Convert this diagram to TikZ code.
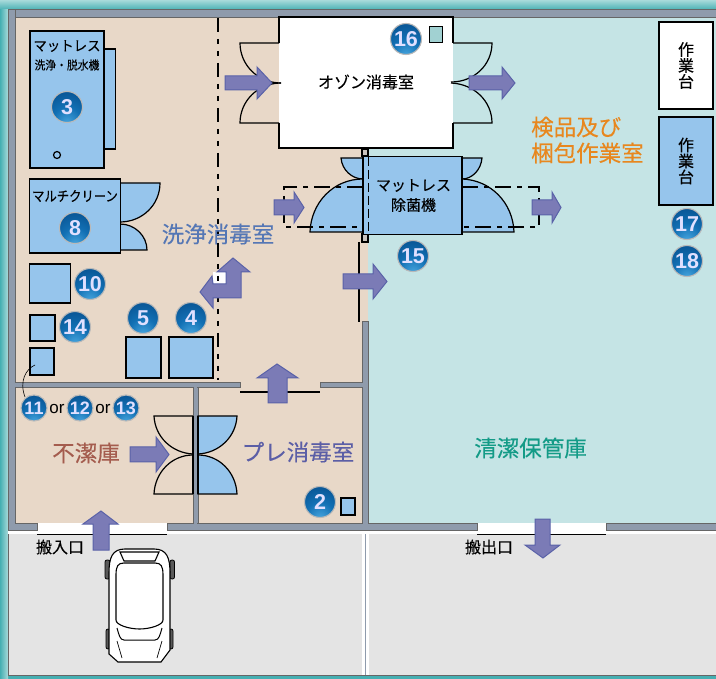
\documentclass[tikz,border=0pt]{standalone}
\usepackage{fontspec}
\setmainfont{Noto Sans CJK JP}[FakeBold=0.25]
\newfontfamily\badgefont{Liberation Sans}
\definecolor{ballhi}{HTML}{4AA8E0}
\definecolor{ballmid}{HTML}{1270B4}
\definecolor{balldk}{HTML}{07508F}
\definecolor{ballout}{HTML}{053F78}
\pgfdeclareradialshading{ballsh}{\pgfpoint{0bp}{-28bp}}{
  color(0bp)=(ballhi); color(22bp)=(ballmid); color(46bp)=(balldk); color(78bp)=(ballout); color(100bp)=(ballout)}
\definecolor{beige}{HTML}{E8D8C8}
\definecolor{cyanroom}{HTML}{C5E4E5}
\definecolor{floorg}{HTML}{E4E4E4}
\definecolor{wallc}{HTML}{8F9BAC}
\definecolor{walle}{HTML}{666666}
\definecolor{blu}{HTML}{96C5EC}
\definecolor{arrf}{HTML}{7B7BB6}
\definecolor{arre}{HTML}{5A62A8}
\definecolor{tealdk}{HTML}{45AFB2}
\definecolor{teallt}{HTML}{A8DADA}
\tikzset{
  wall/.style={fill=wallc,draw=walle,line width=1pt},
  bx/.style={fill=blu,draw=black,line width=1.5pt},
  flap/.style={fill=blu,draw=black,line width=1.2pt},
  oflap/.style={draw=black,line width=1.2pt},
  flow/.style={fill=arrf,draw=arre,line width=1pt,line join=miter},
  badge/.style={circle,shading=ballsh,draw=gray!55,line width=1.1pt,minimum size=31pt,inner sep=0pt,text=white!88!blue,font=\badgefont\bfseries\fontsize{21.5}{21.5}\selectfont},
  sbadge/.style={badge,minimum size=26pt,font=\badgefont\bfseries\fontsize{18}{18}\selectfont},
  jp/.style={inner sep=0pt,text=black},
  room/.style={inner sep=0pt,font=\fontsize{22.5}{26}\selectfont},
  car/.style={draw=black,line width=1.1pt,fill=white},
  cdash/.style={draw=black,line width=1.3pt,dash pattern=on 14pt off 7pt on 5pt off 7pt on 5pt off 7pt},
  ldash/.style={draw=black,line width=1.1pt,dash pattern=on 16pt off 6pt on 5pt off 6pt},
  postend/.style={draw=black,fill=wallc!35!beige,line width=1.1pt,minimum width=6pt,inner sep=0pt}
}
\begin{document}
\begin{tikzpicture}[x=1pt,y=-1pt]
\useasboundingbox (0,0) rectangle (716,679);
% frame
\fill[tealdk] (0,0) rectangle (716,679);
\shade[top color=teallt,bottom color=tealdk] (0,0) rectangle (716,10);
\shade[left color=tealdk,right color=teallt] (0,10) rectangle (8,679);
% floors
\fill[floorg] (8,533) rectangle (716,675);
\draw[walle,line width=1pt] (8,675) -- (716,675);
\draw[walle,line width=1pt] (8,533) -- (8,675);
\fill[white] (8,523) rectangle (716,534);
\fill[white] (362,534) rectangle (369,675);
\fill[wallc] (365,534) rectangle (366,675);
% rooms
\fill[beige] (15,18) rectangle (367.5,523);
\fill[cyanroom] (367.5,18) rectangle (716,523);
% walls
\draw[wall] (8,10) rectangle (716,18);
\draw[wall] (8,10) rectangle (15,530);
\draw[wall] (15,523) rectangle (37,530);
\draw[wall] (15,383) rectangle (240,388);
\draw[wall] (320,383) rectangle (362,388);
\draw[wall] (193,388) rectangle (198,523);
\draw[wall] (362,322) rectangle (368,523);
\draw[wall] (167,523) rectangle (477,530);
\draw[wall] (606,523) rectangle (716,530);
\fill[wallc] (9,11) rectangle (14.5,17.5);
\fill[wallc] (9,523.5) rectangle (20,529.5);
\fill[wallc] (9,383.5) rectangle (20,387.5);
\fill[wallc] (193.6,383.5) rectangle (197.4,389);
\fill[wallc] (193.6,522) rectangle (197.4,524);
\fill[wallc] (361,383.5) rectangle (363,387.5);
\fill[wallc] (362.5,522) rectangle (367.5,524);
\draw[black,line width=1.2pt] (37,534.5) -- (167,534.5);
\draw[black,line width=1.2pt] (477,534.5) -- (606,534.5);
\draw[black,line width=1.2pt] (240,392) -- (320,392);
% center dash line
\fill[white] (213,272) rectangle (226,284);
\draw[cdash] (218,18) -- (218,380);
% Ozone room
\node[draw=none,fill=white,minimum width=174pt,minimum height=131pt,inner sep=0pt] (ozone) at (366,82.5) {};
\draw[line width=1.4pt] (279,43) -- (279,17) -- (453,17) -- (453,43);
\draw[line width=1.4pt] (279,123) -- (279,148) -- (453,148) -- (453,123);
\draw[oflap] (279,43) -- (240,43) .. controls (240,65) and (258,83) .. (281,83);
\draw[oflap] (279,123) -- (240,123) .. controls (240,101) and (258,83) .. (281,83);
\draw[oflap] (453,43) -- (492,43) .. controls (492,65) and (474,82) .. (451,82);
\draw[oflap] (453,123) -- (492,123) .. controls (492,101) and (474,84) .. (451,83);
\node[jp,font=\fontsize{16}{18}\selectfont] (ozlabel) at (366,82) {オゾン消毒室};
\node[fill=cyanroom!70!teal!80,draw=black,line width=1.4pt,minimum width=13pt,minimum height=16pt,inner sep=0pt] (b16box) at (436,34.5) {};
\node[badge] (b16) at (406,39) {16};
% flows near ozone
\draw[flow] (225,76) -- (257,76) -- (257,67) -- (272,83) -- (257,99) -- (257,90) -- (225,90) -- cycle;
\draw[flow] (469,76) -- (502,76) -- (502,67) -- (515,83) -- (502,99) -- (502,90) -- (469,90) -- cycle;
% Mattress sterilizer flaps
\draw[flap] (363,158) -- (341,158) .. controls (342,170) and (352,179) .. (363,179);
\draw[flap] (363,179) .. controls (333,179) and (311,203) .. (310,232) -- (363,232) -- cycle;
\draw[flap] (462,158) -- (482,158) .. controls (481,170) and (472,179) .. (462,179);
\draw[flap] (462,179) .. controls (491,180) and (513,203) .. (514,232) -- (462,232) -- cycle;
\draw[ldash] (363,187) -- (284,187) -- (284,227) -- (363,227);
\draw[ldash] (462,187) -- (539,187) -- (539,227) -- (462,227);
\node[postend,minimum height=7pt] (posttop) at (365,152.5) {};
\node[postend,minimum height=8pt] (postbot) at (365,238) {};
\node[bx,minimum width=99pt,minimum height=78pt,inner sep=0pt,align=center,font=\fontsize{15}{20}\selectfont] (m15) at (412.5,195.5) {\hspace*{2pt}マットレス\\\hspace*{2pt}除菌機};
\draw[black,line width=1pt,dash pattern=on 9pt off 4pt] (368,157) -- (368,234);
\draw[flow] (274,200) -- (294,200) -- (294,192) -- (304,207.5) -- (294,223) -- (294,215) -- (274,215) -- cycle;
\draw[flow] (532,200) -- (552,200) -- (552,192) -- (561,207.5) -- (552,223) -- (552,215) -- (532,215) -- cycle;
\draw[line width=1.2pt] (359,242) -- (359,322);
\draw[flow] (343,274) -- (373,274) -- (373,264) -- (387,281.5) -- (373,299) -- (373,289) -- (343,289) -- cycle;
\node[badge] (b15) at (413,256) {15};
% machine 3
\node[bx,minimum width=11pt,minimum height=100pt,inner sep=0pt] (m3side) at (110,99) {};
\node[bx,minimum width=74pt,minimum height=137pt,inner sep=0pt] (m3) at (67,99.5) {};
\node[jp,font=\fontsize{14}{16}\selectfont,xscale=0.96] (m3a) at (67,46) {マットレス};
\node[jp,font=\fontsize{12}{14}\selectfont,xscale=0.9] (m3b) at (67,65) {洗浄・脱水機};
\node[circle,draw=black,line width=1.2pt,minimum size=7pt,inner sep=0pt] (m3c) at (57,155) {};
\node[badge] (b3) at (67,107) {3};
% machine 8
\draw[flap] (120,183) -- (160,183) .. controls (160,205) and (142,222) .. (120,222);
\draw[flap] (120,224) .. controls (135,224) and (147,236) .. (147,250) -- (120,250);
\node[bx,minimum width=91pt,minimum height=74pt,inner sep=0pt] (m8) at (75,216) {};
\node[jp,font=\fontsize{14}{16}\selectfont,xscale=0.88] (m8a) at (75,196) {マルチクリーン};
\node[badge] (b8) at (75,228) {8};
\node[room,text={rgb,255:red,85;green,119;blue,181}] (r1) at (218,234) {洗浄消毒室};
% L arrow
\draw[flow] (200,292) -- (212,276) -- (213,284) -- (226,284) -- (226,272) -- (217,272) -- (233,258) -- (250,272) -- (241,272) -- (241,298) -- (213,298) -- (213,308) -- cycle;
% boxes
\node[bx,minimum width=41pt,minimum height=39pt,inner sep=0pt] (bx10) at (50,283.5) {};
\node[badge] (b10) at (90,284) {10};
\node[bx,minimum width=25pt,minimum height=26pt,inner sep=0pt] (bx14) at (42.5,328) {};
\node[badge] (b14) at (75,327) {14};
\node[bx,minimum width=24pt,minimum height=27pt,inner sep=0pt] (bx11) at (42,361.5) {};
\node[bx,minimum width=35pt,minimum height=41pt,inner sep=0pt] (bx5) at (143.5,357.5) {};
\node[badge] (b5) at (143,318) {5};
\node[bx,minimum width=44pt,minimum height=41pt,inner sep=0pt] (bx4) at (191,357.5) {};
\node[badge] (b4) at (191,318) {4};
\node[sbadge] (b11) at (34,408) {11};
\node[sbadge] (b12) at (80,408) {12};
\node[sbadge] (b13) at (126,408) {13};
\node[jp,font=\badgefont\fontsize{17}{17}\selectfont] (or1) at (57,409) {or};
\node[jp,font=\badgefont\fontsize{17}{17}\selectfont] (or2) at (103,409) {or};
\draw[line width=0.6pt] (35,365) .. controls (26,369) and (19,381) .. (25,397);
% pre room
\node[room,text={rgb,255:red,164;green,92;blue,78}] (r2) at (86,453) {不潔庫};
\node[room,text={rgb,255:red,91;green,94;blue,166}] (r3) at (298,452) {プレ消毒室};
\draw[oflap] (193,416) -- (154,416) .. controls (155,437) and (172,453) .. (193,454);
\draw[oflap] (193,494) -- (154,494) .. controls (155,472) and (172,455) .. (193,455);
\draw[flap] (198,416) -- (237,416) .. controls (236,437) and (219,453) .. (198,454) -- cycle;
\draw[flap] (198,494) -- (237,494) .. controls (236,472) and (219,455) .. (198,455) -- cycle;
\draw[line width=1.2pt] (193,416) -- (193,494) (198,416) -- (198,494);
\draw[flow] (130,447) -- (156,447) -- (156,437) -- (169,454.5) -- (156,472) -- (156,462) -- (130,462) -- cycle;
\draw[flow] (268,403) -- (268,378) -- (257,378) -- (277,364) -- (298,378) -- (287,378) -- (287,403) -- cycle;
\node[badge] (b2) at (320,502) {2};
\node[bx,minimum width=14pt,minimum height=17pt,inner sep=0pt] (bx2) at (348,506.5) {};
\node[room,text={rgb,255:red,20;green,155;blue,135}] (r4) at (530.5,448) {清潔保管庫};
% right side
\node[room,text={rgb,255:red,232;green,135;blue,30},align=left,font=\fontsize{22.5}{26}\selectfont,anchor=west] (r5) at (531,140) {検品及び\\梱包作業室};
\node[draw=black,fill=white,line width=1.5pt,minimum width=54pt,minimum height=87pt,inner sep=0pt,align=center,font=\fontsize{16}{16}\selectfont] (t1) at (686,65.5) {作\\業\\台};
\node[bx,minimum width=54pt,minimum height=88pt,inner sep=0pt,align=center,font=\fontsize{16}{16}\selectfont] (t2) at (686,161) {作\\業\\台};
\node[badge] (b17) at (687,224) {17};
\node[badge] (b18) at (687,261) {18};
% door arrows
\draw[flow] (93,550) -- (93,524) -- (83,524) -- (101,511) -- (118,524) -- (109,524) -- (109,550) -- cycle;
\draw[flow] (535,519) -- (535,545) -- (525,545) -- (543,558) -- (560,545) -- (550,545) -- (550,519) -- cycle;
\node[jp,font=\fontsize{16}{18}\selectfont] (in) at (60,547) {搬入口};
\node[jp,font=\fontsize{16}{18}\selectfont] (out) at (489,547) {搬出口};
% car
\foreach \a/\b/\c/\d in {105/560/110/579,170/560/174.5/579,106/629/110/649,169/629/173/649}
  \draw[fill=gray!70!black,line width=0.8pt,rounded corners=2pt] (\a,\b) rectangle (\c,\d);
\draw[car] (109,573) .. controls (109,558) and (112,549) .. (125,549) -- (154,549) .. controls (167,549) and (170,558) .. (170,573) -- (170,650) -- (161,662) -- (118,662) -- (109,654) -- cycle;
\draw[line width=1.1pt] (120,552) -- (159,552) -- (155,561) -- (124,561) -- cycle;
\draw[car] (116,575) .. controls (116,566) and (118,563) .. (124,563) -- (155,563) .. controls (161,563) and (163,566) .. (163,575) -- (163,620) .. controls (163,625) and (150,629) .. (139.5,629) .. controls (129,629) and (116,625) .. (116,620) -- cycle;
\draw[line width=1pt] (117,628) .. controls (119,635) and (120,640) .. (124,640) -- (155,640) .. controls (159,640) and (160,635) .. (162,628);
\draw[line width=0.7pt] (117,641) -- (122,658) (162,641) -- (157,658);
\end{tikzpicture}
\end{document}
